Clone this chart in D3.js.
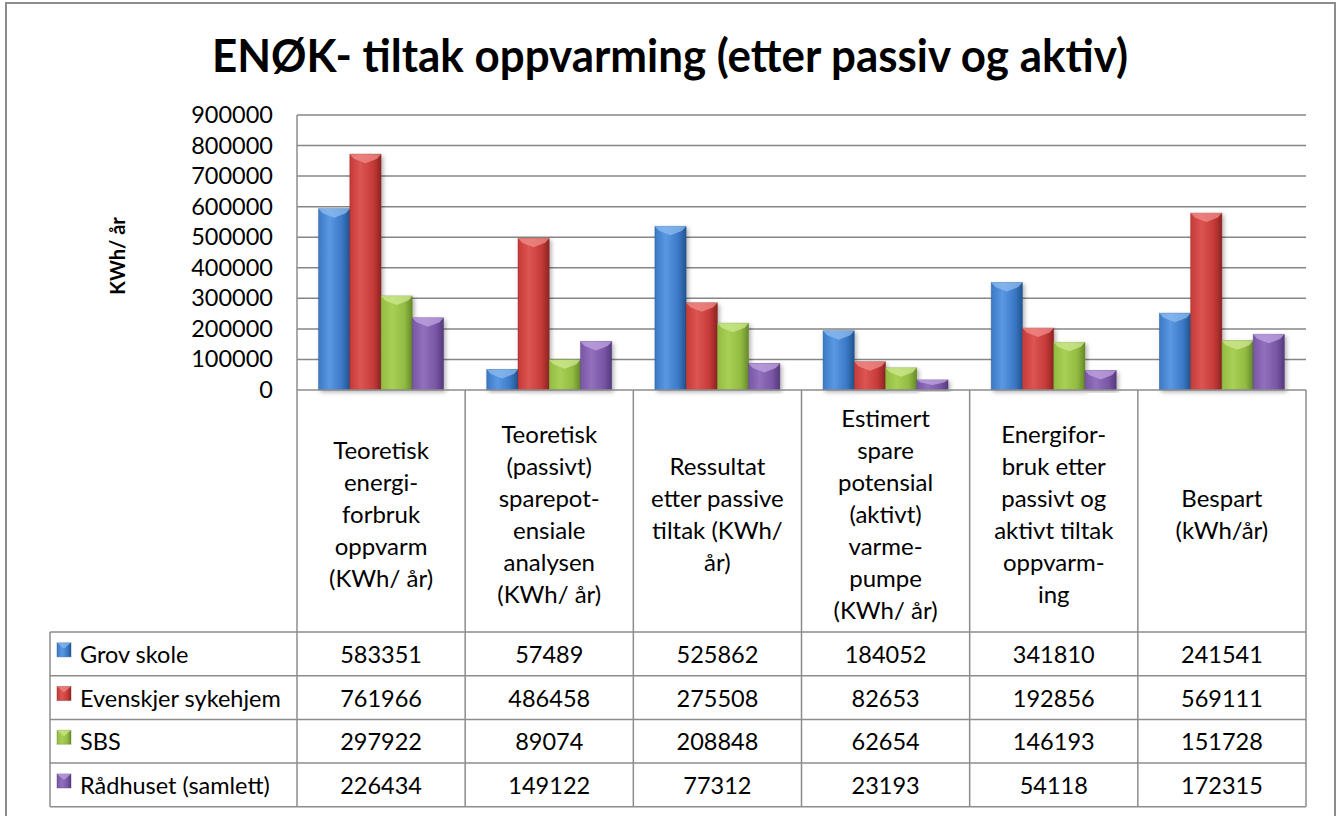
<!DOCTYPE html>
<html>
<head>
<meta charset="utf-8">
<script src="https://cdnjs.cloudflare.com/ajax/libs/d3/7.8.5/d3.min.js"></script>
<style>
  body { margin: 0; background: #fff; }
  text { font-family: Lato, "Open Sans", sans-serif; fill: #000; }
</style>
</head>
<body>
<script>
// data
var categories = [
	['Teoretisk', 'energi-', 'forbruk', 'oppvarm', '(KWh/ år)'],
	['Teoretisk', '(passivt)', 'sparepot-', 'ensiale', 'analysen', '(KWh/ år)'],
	['Ressultat', 'etter passive', 'tiltak (KWh/', 'år)'],
	['Estimert', 'spare', 'potensial', '(aktivt)', 'varme-', 'pumpe', '(KWh/ år)'],
	['Energifor-', 'bruk etter', 'passivt og', 'aktivt tiltak', 'oppvarm-', 'ing'],
	['Bespart', '(kWh/år)']
];
var seriesNames = ['Grov skole', 'Evenskjer sykehjem', 'SBS', 'Rådhuset (samlett)'];
var grovSkole = [583351, 57489, 525862, 184052, 341810, 241541];
var evenskjer = [761966, 486458, 275508, 82653, 192856, 569111];
var sbs = [297922, 89074, 208848, 62654, 146193, 151728];
var radhuset = [226434, 149122, 77312, 23193, 54118, 172315];
var seriesValues = [grovSkole, evenskjer, sbs, radhuset];
var yTicks = [0, 100000, 200000, 300000, 400000, 500000, 600000, 700000, 800000, 900000];

var colors = [
	{ base: '#3b78c6', light: '#5b98e2', dark: '#21548f', cap: '#8dbcf0' },
	{ base: '#c53a38', light: '#dc5552', dark: '#8e2422', cap: '#f08e8a' },
	{ base: '#92bb42', light: '#a9d055', dark: '#65892a', cap: '#cfe890' },
	{ base: '#7a56a6', light: '#9170bd', dark: '#553a7b', cap: '#c0a5e2' }
];

var W = 1337, H = 816;
var plotLeft = 297, plotRight = 1306, plotTop = 115, plotBottom = 390;
var headerBottom = 632, rowH = 43.7, tableLeft = 50;

var svg = d3.select('body').append('svg')
	.attr('width', W)
	.attr('height', H);

var defs = svg.append('defs');
colors.forEach(function(c, i) {
	var g = defs.append('linearGradient')
		.attr('id', 'grad' + i)
		.attr('x1', '0%').attr('x2', '100%').attr('y1', '0%').attr('y2', '0%');
	g.append('stop').attr('offset', '0%').attr('stop-color', c.base);
	g.append('stop').attr('offset', '35%').attr('stop-color', c.light);
	g.append('stop').attr('offset', '75%').attr('stop-color', c.base);
	g.append('stop').attr('offset', '100%').attr('stop-color', c.dark);
});
var shadow = defs.append('filter').attr('id', 'shadow')
	.attr('x', '-20%').attr('y', '-5%').attr('width', '150%').attr('height', '120%');
shadow.append('feDropShadow')
	.attr('dx', 2).attr('dy', 2).attr('stdDeviation', 2)
	.attr('flood-color', '#000').attr('flood-opacity', 0.3);

// outer frame
svg.append('rect')
	.attr('x', 6).attr('y', 3)
	.attr('width', 1329).attr('height', 830)
	.attr('fill', 'none')
	.attr('stroke', '#8c8c8c')
	.attr('stroke-width', 2);

// title
svg.append('text')
	.attr('x', 670)
	.attr('y', 72)
	.attr('text-anchor', 'middle')
	.attr('font-size', 46)
	.attr('font-weight', 'bold')
	.attr('textLength', 916)
	.attr('lengthAdjust', 'spacingAndGlyphs')
	.text('ENØK- tiltak oppvarming (etter passiv og aktiv)');

var y = d3.scaleLinear().domain([0, 900000]).range([plotBottom, plotTop]);
var x = d3.scaleBand().domain(d3.range(categories.length)).range([plotLeft, plotRight]);
var xs = d3.scaleBand().domain(d3.range(seriesNames.length)).range([0, x.bandwidth()]).paddingOuter(0.69);

// gridlines
svg.append('g')
	.selectAll('line')
	.data(yTicks.slice(1))
	.join('line')
	.attr('x1', plotLeft).attr('x2', plotRight)
	.attr('y1', function(d) { return y(d); })
	.attr('y2', function(d) { return y(d); })
	.attr('stroke', '#868686')
	.attr('stroke-width', 1.5);

// y axis labels
var yAxis = d3.axisLeft(y).tickValues(yTicks).tickSize(0).tickPadding(0).tickFormat(d3.format('d'));
var yg = svg.append('g')
	.attr('transform', 'translate(273,0)')
	.call(yAxis);
yg.select('.domain').remove();
yg.selectAll('text')
	.attr('font-size', 23.5)
	.attr('font-family', 'Lato, sans-serif')
	.attr('fill', '#000');

// y axis title
svg.append('text')
	.attr('transform', 'translate(125,256) rotate(-90)')
	.attr('text-anchor', 'middle')
	.attr('font-size', 20)
	.attr('font-weight', 'bold')
	.text('KWh/ år');

// bars
var bars = svg.append('g');
seriesValues.forEach(function(vals, s) {
	var g = bars.append('g');
	g.selectAll('rect')
		.data(vals)
		.join('rect')
		.attr('x', function(d, i) { return x(i) + xs(s); })
		.attr('y', function(d) { return y(d) - 3; })
		.attr('width', xs.bandwidth())
		.attr('height', function(d) { return y(0) - y(d) + 3; })
		.attr('fill', 'url(#grad' + s + ')')
		.attr('stroke', colors[s].dark)
		.attr('stroke-opacity', 0.5)
		.attr('stroke-width', 0.8)
		.attr('filter', 'url(#shadow)');
	// bevelled cap
	g.selectAll('path')
		.data(vals)
		.join('path')
		.attr('d', function(d, i) {
			var x0 = x(i) + xs(s), x1 = x0 + xs.bandwidth(), t = y(d) - 3;
			var h = Math.min(9, (y(0) - t) / 2);
			return 'M' + x0 + ',' + t + 'L' + x1 + ',' + t + 'L' + (x1 - 4) + ',' + (t + h * 0.5) +
				'L' + ((x0 + x1) / 2) + ',' + (t + h) + 'L' + (x0 + 4) + ',' + (t + h * 0.5) + 'Z';
		})
		.attr('fill', colors[s].cap)
		.attr('opacity', 0.75);
});

// table lines
var table = svg.append('g').attr('stroke', '#8c8c8c').attr('stroke-width', 1.5).attr('fill', 'none');
var tableBottom = headerBottom + rowH * seriesNames.length;
table.append('line')
	.attr('x1', plotLeft).attr('x2', plotRight)
	.attr('y1', plotBottom).attr('y2', plotBottom);
table.append('line')
	.attr('x1', plotLeft).attr('x2', plotLeft)
	.attr('y1', plotTop).attr('y2', tableBottom);
table.selectAll('.vline')
	.data(d3.range(1, categories.length + 1))
	.join('line')
	.attr('class', 'vline')
	.attr('x1', function(d) { return x(d - 1) + x.bandwidth(); })
	.attr('x2', function(d) { return x(d - 1) + x.bandwidth(); })
	.attr('y1', plotBottom).attr('y2', tableBottom);
table.selectAll('.hline')
	.data(d3.range(seriesNames.length + 1))
	.join('line')
	.attr('class', 'hline')
	.attr('x1', tableLeft).attr('x2', plotRight)
	.attr('y1', function(d) { return headerBottom + d * rowH; })
	.attr('y2', function(d) { return headerBottom + d * rowH; });
table.append('line')
	.attr('x1', tableLeft).attr('x2', tableLeft)
	.attr('y1', headerBottom).attr('y2', tableBottom);

// header labels
var headerMid = (plotBottom + headerBottom) / 2 + 2;
var lineH = 32;
categories.forEach(function(lines, i) {
	var t = svg.append('text')
		.attr('text-anchor', 'middle')
		.attr('font-size', 24)
		.attr('dominant-baseline', 'central');
	lines.forEach(function(l, k) {
		t.append('tspan')
			.attr('x', x(i) + x.bandwidth() / 2)
			.attr('y', headerMid + (k - (lines.length - 1) / 2) * lineH)
			.text(l);
	});
});

// data rows
seriesNames.forEach(function(name, s) {
	var cy = headerBottom + rowH * s + rowH / 2;
	var ix = 57, iy = cy - 11, sz = 14;
	svg.append('rect')
		.attr('x', ix).attr('y', iy)
		.attr('width', sz).attr('height', sz)
		.attr('fill', 'url(#grad' + s + ')')
		.attr('stroke', colors[s].dark)
		.attr('stroke-opacity', 0.4);
	svg.append('path')
		.attr('d', 'M' + ix + ',' + iy + 'L' + (ix + sz) + ',' + iy + 'L' + (ix + sz / 2) + ',' + (iy + 6) + 'Z')
		.attr('fill', colors[s].cap)
		.attr('opacity', 0.7);
	svg.append('text')
		.attr('x', 80)
		.attr('y', cy)
		.attr('dominant-baseline', 'central')
		.attr('font-size', 23.5)
		.text(name);
	svg.append('g')
		.selectAll('text')
		.data(seriesValues[s])
		.join('text')
		.attr('x', function(d, i) { return x(i) + x.bandwidth() / 2; })
		.attr('y', cy)
		.attr('text-anchor', 'middle')
		.attr('dominant-baseline', 'central')
		.attr('font-size', 23.5)
		.text(function(d) { return d; });
});
</script>
</body>
</html>
